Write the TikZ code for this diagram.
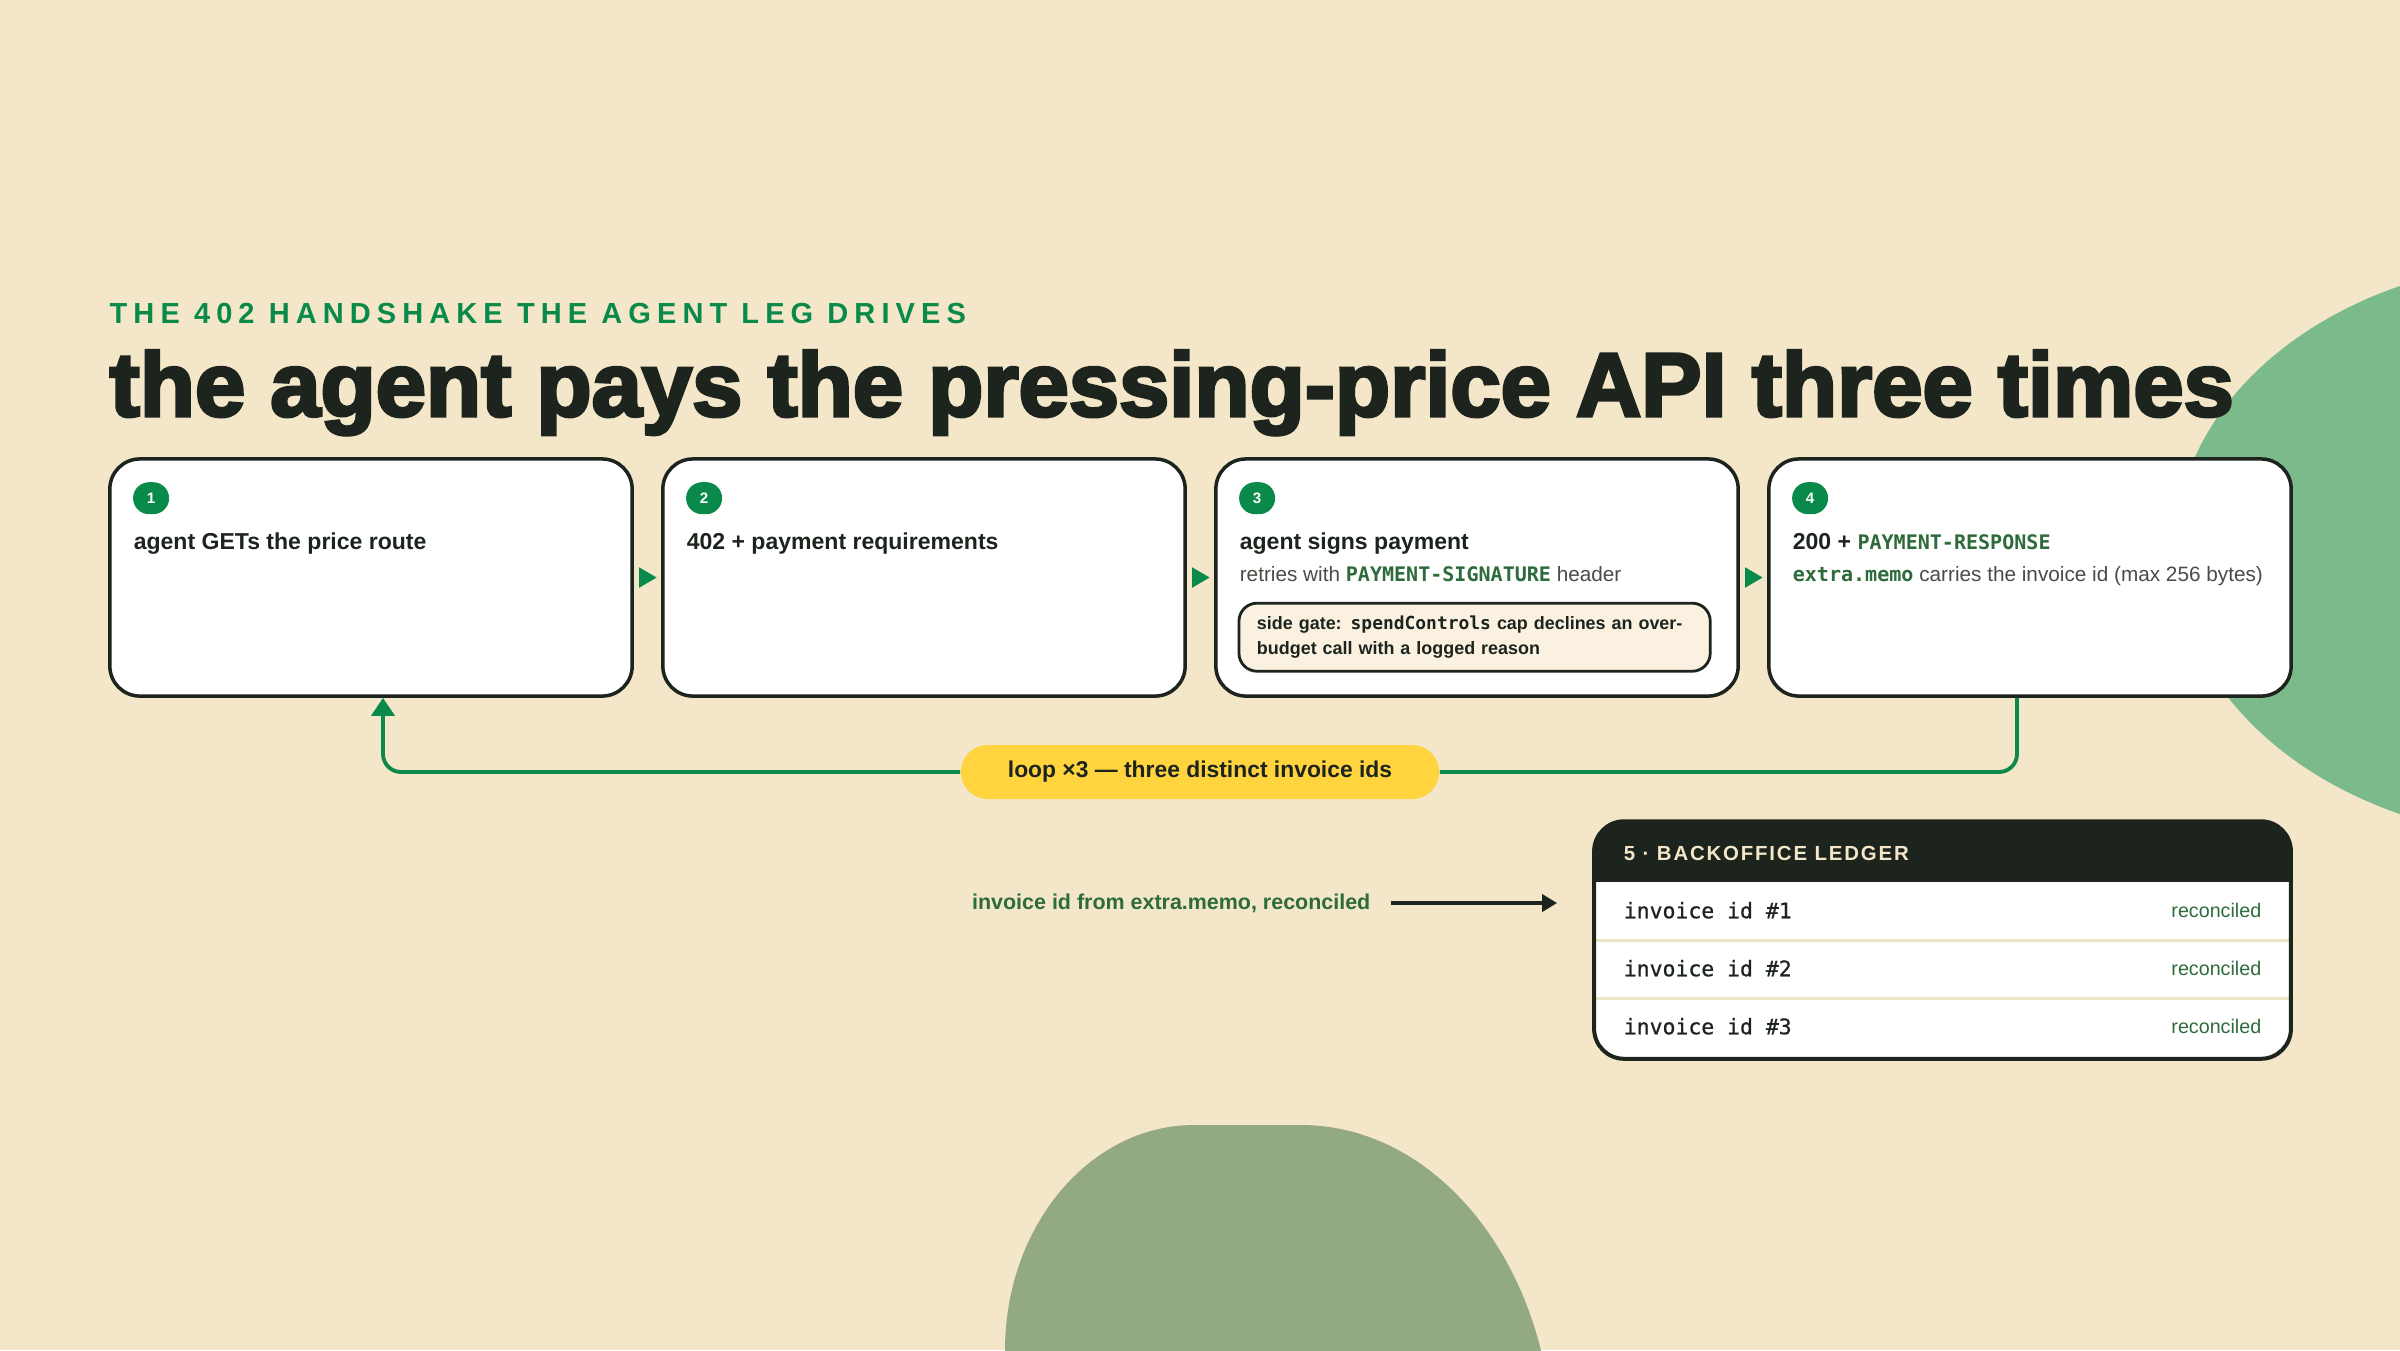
\documentclass[tikz,border=0pt]{standalone}
\usepackage{fontspec}
\setmainfont{Liberation Sans}
\setmonofont{DejaVu Sans Mono}
\newfontfamily\titlefont{Liberation Sans}[BoldFeatures={FakeBold=3.5}]
\newfontfamily\kickerfont{Liberation Sans}[LetterSpace=21]
\newfontfamily\ledgerfont{Liberation Sans}[LetterSpace=9]
\newfontfamily\rowmono{DejaVu Sans Mono}[FakeBold=0.7]
\usepackage{tikz}
\usetikzlibrary{calc,arrows.meta}

\definecolor{paper}{HTML}{F4E6C8}
\definecolor{ink}{HTML}{1C241D}
\definecolor{accent}{HTML}{0A8A4A}
\definecolor{leaf}{HTML}{7BBA8B}
\definecolor{olive}{HTML}{93A983}
\definecolor{sun}{HTML}{FFD43F}
\definecolor{codegreen}{HTML}{2E6B3C}
\definecolor{muted}{HTML}{4A4C46}
\definecolor{cream}{HTML}{FAF1E1}
\definecolor{rowline}{HTML}{EFE3C6}

% green code words inside the cards
\newcommand\codebit[1]{{\ttfamily\bfseries\color{codegreen}\fontsize{5.7pt}{7pt}\selectfont #1}}

\tikzset{
  kicker/.style={anchor=base west, inner sep=0pt, text=accent,
    font=\kickerfont\bfseries\fontsize{8.25pt}{10pt}\selectfont},
  bigtitle/.style={anchor=base west, inner sep=0pt, text=ink,
    font=\titlefont\bfseries\fontsize{25.6pt}{30pt}\selectfont},
  card/.style={draw=ink, line width=0.035cm, fill=white, rounded corners=0.3cm,
    minimum width=5.22cm, minimum height=2.37cm},
  badge/.style={fill=accent, text=white, rounded corners=0.16cm, inner sep=0pt,
    minimum width=0.36cm, minimum height=0.32cm,
    font=\bfseries\fontsize{4.3pt}{5pt}\selectfont},
  steptext/.style={anchor=base west, inner sep=0pt, text=ink,
    font=\bfseries\fontsize{6.55pt}{8pt}\selectfont},
  stepnote/.style={anchor=base west, inner sep=0pt, text=muted,
    font=\fontsize{5.9pt}{7pt}\selectfont},
  sidegate/.style={draw=ink, line width=0.028cm, fill=cream, rounded corners=0.18cm,
    minimum width=4.71cm, minimum height=0.68cm, inner xsep=0.18cm,
    text width=4.35cm, align=left, text=ink,
    font=\bfseries\fontsize{5.1pt}{6.97pt}\selectfont},
  steptip/.style={accent, line width=0.02cm,
    -{Triangle[length=0.175cm,width=0.2cm]},
    shorten <=0.09cm, shorten >=0.045cm},
  looppill/.style={fill=sun, rounded corners=0.27cm, inner sep=0pt,
    minimum width=4.78cm, minimum height=0.54cm, text=ink,
    font=\bfseries\fontsize{6.5pt}{8pt}\selectfont},
  looplink/.style={draw=accent, line width=0.038cm, rounded corners=0.18cm},
  ledgerbox/.style={fill=white, minimum width=6.95cm, minimum height=2.36cm,
    rounded corners=0.3cm},
  ledgerrim/.style={draw=ink, line width=0.04cm, rounded corners=0.3cm},
  rowrule/.style={draw=rowline, line width=0.03cm},
  ledgerhead/.style={anchor=west, inner sep=0pt, text=paper,
    font=\ledgerfont\bfseries\fontsize{5.8pt}{7pt}\selectfont},
  rowid/.style={anchor=west, inner sep=0pt, text=ink,
    font=\rowmono\fontsize{6.1pt}{7pt}\selectfont},
  rowok/.style={anchor=east, inner sep=0pt, text=codegreen,
    font=\fontsize{5.6pt}{7pt}\selectfont},
  memolabel/.style={anchor=east, inner sep=0pt, text=codegreen,
    font=\bfseries\fontsize{6.1pt}{7pt}\selectfont},
  memoarrow/.style={draw=ink, line width=0.037cm,
    -{Triangle[length=0.15cm,width=0.17cm]},
    shorten <=0.2cm, shorten >=0.37cm}
}

\begin{document}
\begin{tikzpicture}[x=0.01cm,y=-0.01cm]
  % page and the two blobs behind everything
  \fill[paper] (0,0) rectangle (2400,1350);
  \useasboundingbox (0,0) rectangle (2400,1350);
  \begin{scope}
    \clip (0,0) rectangle (2400,1350);
    \fill[leaf] (2560,550) ellipse [x radius=3.85cm, y radius=2.9cm];
    \fill[olive] (1005,1450) -- (1005,1350)
      .. controls (1005,1226) and (1090,1125) .. (1194,1125) -- (1301,1125)
      .. controls (1440,1125) and (1553,1270) .. (1553,1450) -- cycle;
  \end{scope}

  % headings
  \node[kicker] (kicker) at (109,323) {THE 402 HANDSHAKE THE AGENT LEG DRIVES};
  \node[bigtitle] (title) at (109,416)
    {\resizebox{21.23cm}{!}{the agent pays the pressing-price API three times}};

  % the four steps
  \foreach \i in {1,...,4}{
    \node[card] (card\i) at (371+553*\i-553,577.5) {};
    \node[badge] (badge\i) at ($(card\i.north west)+(43,41)$) {\i};
  }
  \node[steptext] (head1) at ($(card1.north west)+(25,92.5)$) {agent GETs the price route};
  \node[steptext] (head2) at ($(card2.north west)+(25,92.5)$) {402 + payment requirements};
  \node[steptext] (head3) at ($(card3.north west)+(25,92.5)$) {agent signs payment};
  \node[stepnote] (note3) at ($(card3.north west)+(25,124.5)$)
    {retries with \codebit{PAYMENT-SIGNATURE} header};
  \node[sidegate] (gate3) at ($(card3.north west)+(260.5,180)$)
    {side gate: {\ttfamily spendControls} cap declines an over-\\budget call with a logged reason};
  \node[steptext] (head4) at ($(card4.north west)+(25,92.5)$) {200 + \codebit{PAYMENT-RESPONSE}};
  \node[stepnote] (note4) at ($(card4.north west)+(25,124.5)$)
    {\codebit{extra.memo} carries the invoice id (max 256 bytes)};

  \foreach \a/\b in {1/2,2/3,3/4}
    \draw[steptip] (card\a.east) -- (card\b.west);

  % loop back to step 1
  \node[looppill] (loop) at (1200,772) {loop ×3 — three distinct invoice ids};
  \draw[looplink] ([xshift=-0.13cm]card4.south) |- (loop.east);
  \draw[looplink,-{Triangle[length=0.18cm,width=0.23cm]}] (loop.west) -| ([xshift=0.12cm]card1.south);

  % backoffice ledger
  \node[ledgerbox] (ledger) at (1942.5,940) {};
  \begin{scope}
    \clip[rounded corners=0.3cm] (ledger.north west) rectangle (ledger.south east);
    \fill[ink] (ledger.north west) rectangle ($(ledger.north east)+(0,61)$);
    \foreach \r in {1,2}
      \draw[rowrule] ($(ledger.north west)+(0,61+58*\r)$) -- ($(ledger.north east)+(0,61+58*\r)$);
  \end{scope}
  \draw[ledgerrim] (ledger.north west) rectangle (ledger.south east);
  \node[ledgerhead] (ledgerttl) at ($(ledger.north west)+(29,32)$) {5 · BACKOFFICE LEDGER};
  \foreach \r in {1,2,3}{
    \node[rowid] (row\r) at ($(ledger.north west)+(29,31+58*\r)$) {invoice id \#\r};
    \node[rowok] (ok\r) at ($(ledger.north east)+(-29,31+58*\r)$) {reconciled};
  }

  % memo into the ledger
  \node[memolabel] (memo) at (1371,903) {invoice id from extra.memo, reconciled};
  \draw[memoarrow] (memo.east) -- (memo.east -| ledger.west);
\end{tikzpicture}
\end{document}
